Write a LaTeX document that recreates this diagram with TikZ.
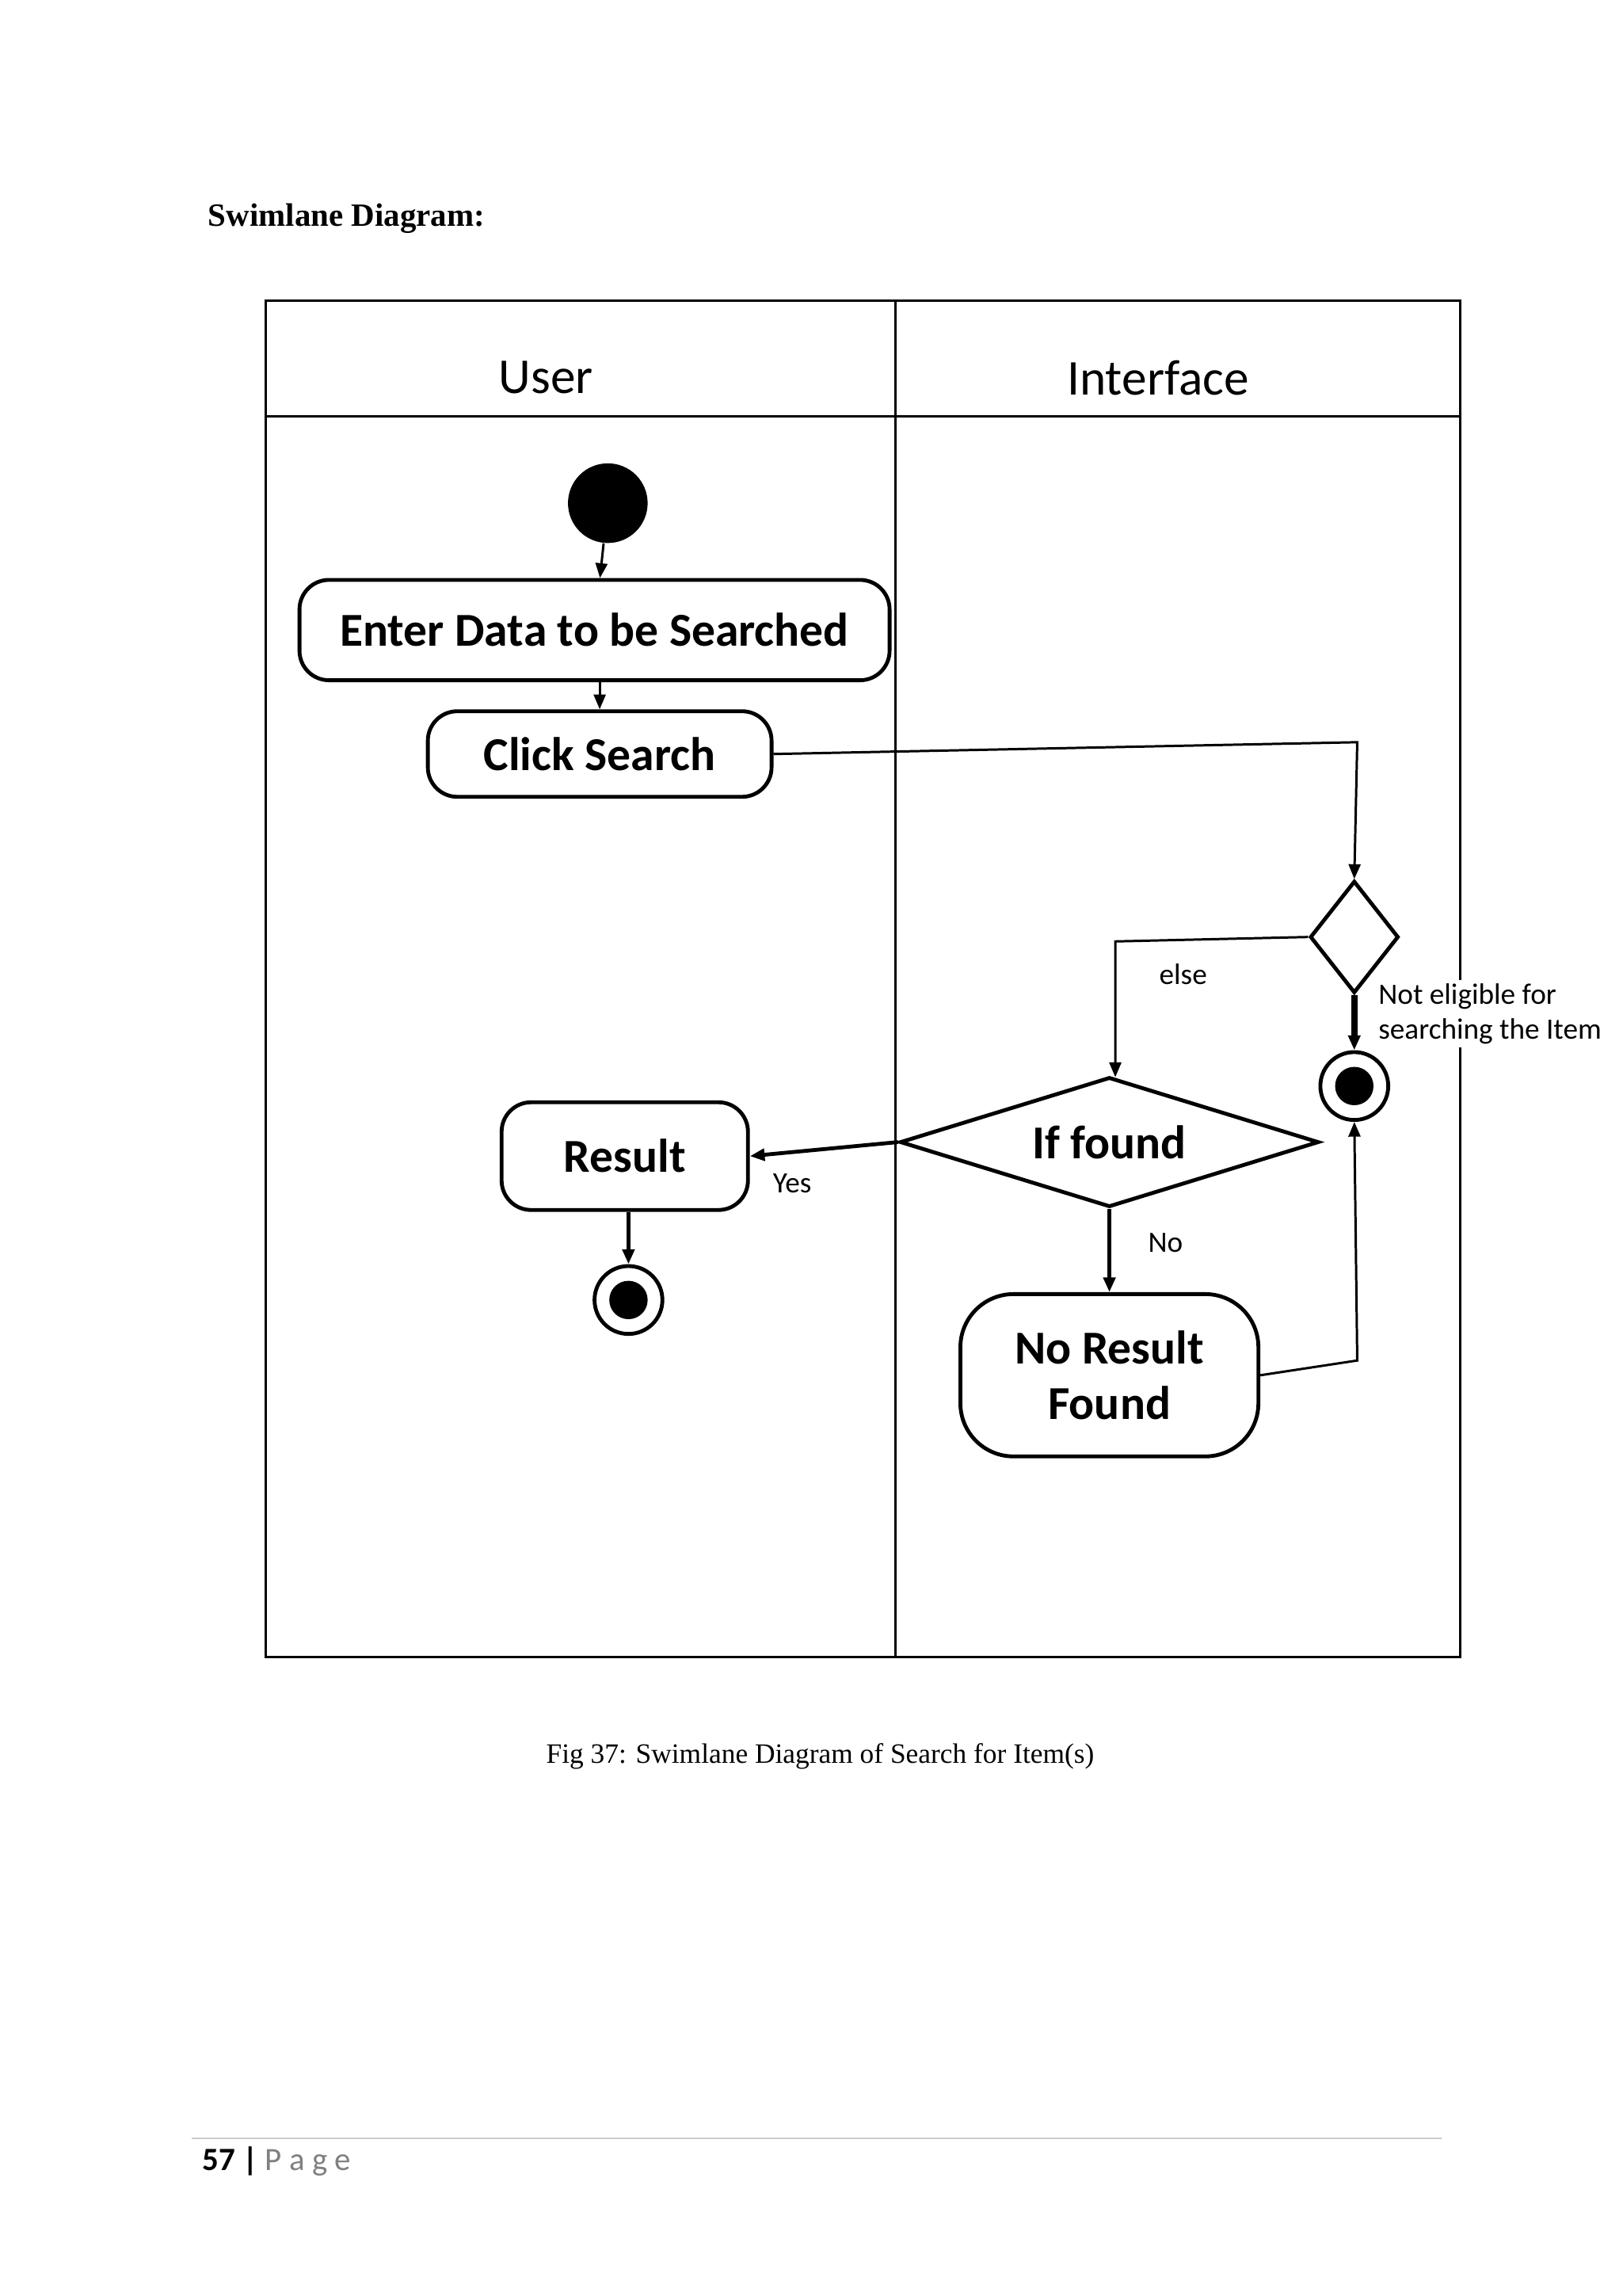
\documentclass[tikz,border=0pt]{standalone}
\usepackage{fontspec}
\setmainfont{Liberation Serif}
\newfontfamily\calfont{Carlito}
\usetikzlibrary{shapes.geometric,arrows.meta}
\begin{document}
\begin{tikzpicture}[x=0.5pt,y=-0.5pt,
 act/.style={draw,line width=1.3pt,rounded corners=10pt,font=\calfont\bfseries\fontsize{16}{19}\selectfont,align=center},
 ln/.style={line width=0.8pt},
 arr/.style={ln,-{Triangle[length=5pt,width=4pt]}},
 lbl/.style={font=\calfont\fontsize{10}{12}\selectfont}]
\useasboundingbox (0,0) rectangle (1100,1556);
\node[anchor=west,font=\bfseries\fontsize{11}{13}\selectfont] (title) at (134,148) {Swimlane Diagram:};
% frame
\draw[ln] (180,204) rectangle (990,1123);
\draw[ln] (607,204) -- (607,1123);
\draw[ln] (180,282) -- (990,282);
\node[font=\calfont\fontsize{17}{20}\selectfont] (u) at (370,256) {User};
\node[font=\calfont\fontsize{17}{20}\selectfont] (i) at (785,256) {Interface};
% nodes
\node[circle,fill=black,minimum size=27pt,inner sep=0] (start) at (412,341) {};
\node[act,minimum width=200pt,minimum height=34pt] (enter) at (403,427) {Enter Data to be Searched};
\node[act,minimum width=116.5pt,minimum height=29pt] (click) at (406.5,511) {Click Search};
\node[draw,diamond,line width=1.3pt,minimum width=30pt,minimum height=38pt,inner sep=0,aspect=0.8] (d1) at (918,635) {};
\node[circle,draw,line width=1.3pt,minimum size=23pt,inner sep=0] (e1) at (918,736) {};
\fill (e1) circle (6.5pt);
\node[draw,diamond,line width=1.3pt,minimum width=142pt,minimum height=44pt,inner sep=0,aspect=3.2,font=\calfont\bfseries\fontsize{16}{19}\selectfont] (ifd) at (752,774) {If found};
\node[act,minimum width=83.5pt,minimum height=36.5pt] (res) at (423.5,783.5) {Result};
\node[circle,draw,line width=1.3pt,minimum size=23pt,inner sep=0] (e2) at (426,881) {};
\fill (e2) circle (6.5pt);
\node[act,rounded corners=18pt,minimum width=101pt,minimum height=55pt] (nrf) at (752,932) {No Result\\Found};
% edges
\draw[arr] (start) -- (enter);
\draw[arr] (enter.south -| click) -- (click);
\draw[arr] (click.east) -- (920,503) -- (d1.north);
\draw[arr] (d1.west) -- (756,638) -- (756,730);
\draw[line width=2pt,-{Triangle[length=5pt,width=4pt]}] (d1.south) -- (e1.north);
\draw[arr,line width=1.3pt] (ifd.west) -- (res.east);
\draw[arr,line width=1.3pt] (res.south -| e2) -- (e2.north);
\draw[arr,line width=1.3pt] (ifd.south) -- (nrf.north);
\draw[arr] (nrf.east) -- (920,922) -- (e1.south);
% labels
\node[lbl] (else) at (802,660) {else};
\node[lbl] (yes) at (537,802) {Yes};
\node[lbl] (no) at (790,842) {No};
\node[lbl,anchor=north west,align=left,fill=white,inner sep=1pt] (ne) at (932,664) {Not eligible for\\searching the Item};
% caption & footer
\node[font=\fontsize{9.5}{11}\selectfont] (cap) at (556,1190) {Fig 37: Swimlane Diagram of Search for Item(s)};
\draw[gray!40,line width=0.5pt] (130,1449) -- (977,1449);
\node[anchor=west,font=\calfont\fontsize{11}{13}\selectfont] (pg) at (130,1465) {\textbf{57 |} \textcolor{gray}{P a g e}};
\end{tikzpicture}
\end{document}
